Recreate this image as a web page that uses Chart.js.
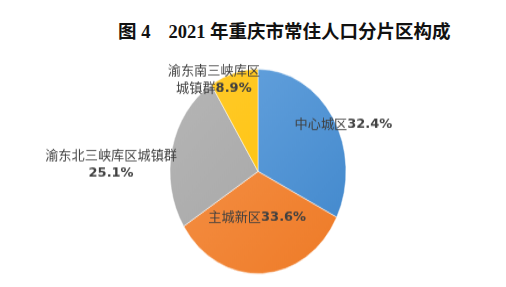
<!DOCTYPE html>
<html lang="zh">

<head>
    <meta charset="UTF-8" />
    <title>2021年重庆市常住人口分片区构成</title>
    <style>
        html, body { margin: 0; padding: 0; background: #fff; }
        body { width: 506px; height: 287px; position: relative; overflow: hidden; }
        .title {
            position: absolute; left: 118px; top: 22px;
            font-family: "Liberation Serif", "Noto Sans CJK SC", serif;
            font-weight: 700; font-size: 18.5px; line-height: 21px;
            color: #111; white-space: nowrap;
        }
        .title .no { margin-right: 18px; }
        /* pie in the source is taller than wide, so the canvas is stretched vertically */
        .chart-box {
            position: absolute; left: 0; top: 0;
            width: 506px; height: 247px;
            transform: scaleY(1.162); transform-origin: 0 0;
        }
    </style>
</head>

<body>
    <div class="title"><span class="no">图 4</span>2021 年重庆市常住人口分片区构成</div>
    <div class="chart-box"><canvas id="pie"></canvas></div>

    <script src="https://cdn.jsdelivr.net/npm/chart.js"></script>
    <script>
        // data
        const regions = ['中心城区', '主城新区', '渝东北三峡库区城镇群', '渝东南三峡库区城镇群'];
        const shares = [32.4, 33.6, 25.1, 8.9];
        const lineBreaks = [null, null, 10, 7];

        const sliceColors = ['#3f86cb', '#ee7a26', '#a2a2a2', '#ffc000'];
        const sliceLight = ['#6aa6e0', '#f6954d', '#b6b6b6', '#ffcb2e'];
        // label offset (screen px) from each slice's mid point
        const labelOffsets = [[48, -20], [-3, -5], [-104, -5], [-32, -52]];

        const STRETCH = 1.162;

        const sliceFill = (c) => {
            const i = c.dataIndex;
            const area = c.chart.chartArea;
            if (!area || i === undefined) return sliceColors[i] || '#999';
            const g = c.chart.ctx.createLinearGradient(area.left, area.top, area.right, area.bottom);
            g.addColorStop(0, sliceLight[i]);
            g.addColorStop(1, sliceColors[i]);
            return g;
        };

        const sliceLabels = {
            id: 'sliceLabels',
            afterDatasetsDraw(chart) {
                const ctx = chart.ctx;
                const arcs = chart.getDatasetMeta(0).data;
                ctx.save();
                ctx.scale(1, 1 / STRETCH);
                ctx.fillStyle = '#404040';
                ctx.textBaseline = 'middle';
                ctx.textAlign = 'left';
                arcs.forEach((arc, i) => {
                    const p = arc.tooltipPosition();
                    const cx = p.x + labelOffsets[i][0];
                    let cy = p.y * STRETCH + labelOffsets[i][1];
                    const name = regions[i];
                    const value = shares[i].toFixed(1) + '%';
                    const b = lineBreaks[i];
                    const lines = b === null
                        ? [[[name, false], [value, true]]]
                        : [[[name.slice(0, b), false]], [[name.slice(b), false], [value, true]]].map(l => l.filter(s => s[0]));
                    lines.forEach(line => {
                        const widths = line.map(([t, bold]) => {
                            ctx.font = bold ? 'bold 13px "DejaVu Sans"' : '13.2px "Noto Sans CJK SC"';
                            return ctx.measureText(t).width;
                        });
                        let x = cx - widths.reduce((a, w) => a + w, 0) / 2;
                        line.forEach(([t, bold], j) => {
                            ctx.font = bold ? 'bold 13px "DejaVu Sans"' : '13.2px "Noto Sans CJK SC"';
                            ctx.fillText(t, x, cy);
                            x += widths[j];
                        });
                        cy += 18;
                    });
                });
                ctx.restore();
            }
        };

        new Chart(document.getElementById('pie'), {
            type: 'pie',
            data: {
                labels: regions,
                datasets: [{
                    data: shares,
                    backgroundColor: sliceFill,
                    borderColor: 'rgba(255,255,255,0.5)',
                    borderWidth: 1
                }]
            },
            options: {
                responsive: true,
                maintainAspectRatio: false,
                animation: false,
                layout: {
                    padding: { left: 169.5, right: 159.5, top: 59, bottom: 11 }
                },
                plugins: {
                    legend: { display: false },
                    tooltip: { enabled: false }
                }
            },
            plugins: [sliceLabels]
        });
    </script>
</body>

</html>
